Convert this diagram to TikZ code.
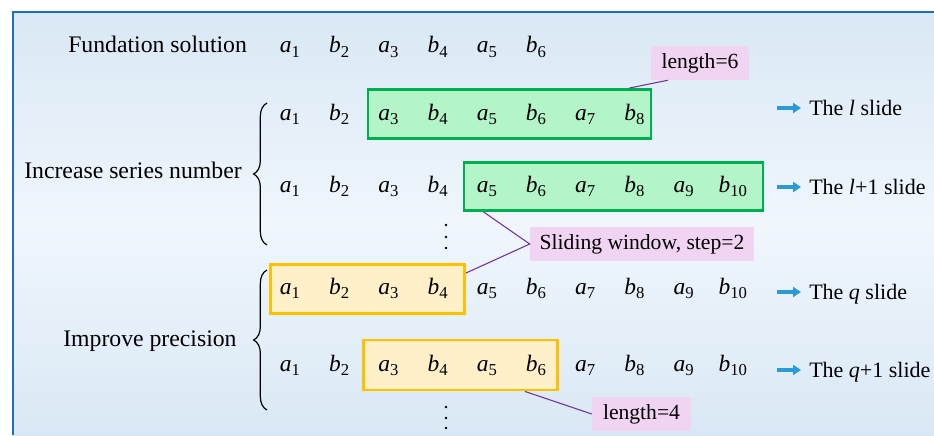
\documentclass[tikz,border=0pt]{standalone}
\usepackage{fontspec}
\setmainfont{Liberation Serif}
\usetikzlibrary{calc,decorations.pathreplacing,arrows.meta}
\definecolor{frameblue}{HTML}{1F6FC1}
\definecolor{bgtop}{HTML}{D9E8F5}
\definecolor{bgmid}{HTML}{F0F6FC}
\definecolor{gfill}{HTML}{B3F5C9}
\definecolor{gline}{HTML}{00B050}
\definecolor{ofill}{HTML}{FFF0C9}
\definecolor{oline}{HTML}{FFC000}
\definecolor{pinkfill}{HTML}{F0D4F2}
\definecolor{conncol}{HTML}{7030A0}
\definecolor{arrblue}{HTML}{2A9BD8}
\newcommand\elem[2]{\textit{#1}\raisebox{-3.6pt}{\fontsize{12.5}{12.5}\selectfont #2}}
\begin{document}
\begin{tikzpicture}[x=0.75pt,y=-0.75pt,
  seqel/.style={anchor=base,inner sep=0pt,font=\fontsize{17.6}{20}\selectfont},
  lefttxt/.style={anchor=base west,inner sep=0pt,font=\fontsize{17.8}{20}\selectfont},
  righttxt/.style={anchor=base west,inner sep=0pt,font=\fontsize{16.5}{20}\selectfont},
  gbox/.style={draw=gline,fill=gfill,line width=2.2pt,rectangle,inner sep=0pt},
  obox/.style={draw=oline,fill=ofill,line width=2.2pt,rectangle,inner sep=0pt},
  pinklab/.style={fill=pinkfill,rectangle,inner sep=0pt,font=\fontsize{16.2}{20}\selectfont},
  conn/.style={draw=conncol,line width=0.8pt},
  slidearrow/.style={draw=arrblue,line width=3pt,-{Triangle[length=6pt,width=7.5pt]}},
  bracestyle/.style={decorate,decoration={brace,amplitude=10pt},line width=0.9pt}
]
\useasboundingbox (0,0) rectangle (934,435);
\fill[white] (0,0) rectangle (934,435);
\shade[top color=bgtop,bottom color=bgtop,middle color=bgmid] (13,12) rectangle (934,435);
\draw[frameblue,line width=2pt] (13,435) -- (13,12) -- (934,12);

% window boxes
\node[gbox,minimum width=283*0.75pt,minimum height=49*0.75pt] (gbox1) at (509.5,114) {};
\node[gbox,minimum width=299*0.75pt,minimum height=48*0.75pt] (gbox2) at (613.5,186.5) {};
\node[obox,minimum width=194*0.75pt,minimum height=49*0.75pt] (obox1) at (367.5,289) {};
\node[obox,minimum width=194*0.75pt,minimum height=50*0.75pt] (obox2) at (460.5,365) {};

% sequences
\foreach \r/\n/\yb in {f/6/53, l/8/120, m/10/192, q/10/294, p/10/371}{
  \foreach \i in {1,...,\n}{
    \pgfmathtruncatemacro{\od}{mod(\i,2)}
    \ifnum\od=1 \def\L{a}\else\def\L{b}\fi
    \node[seqel] (\r\i) at ({290+49.2*(\i-1)},\yb) {\elem{\L}{\i}};
  }
}

% left labels
\node[lefttxt] (fund) at (68,53) {Fundation solution};
\node[lefttxt] (incr) at (24,178) {Increase series number};
\node[lefttxt] (impr) at (63,346) {Improve precision};

% braces
\draw[bracestyle] (267,245) -- (267,103);
\draw[bracestyle] (267,410) -- (267,270);

% vertical dots
\foreach \yy in {225,237,248,407,418,428}{
  \fill (446,\yy) circle (1.4);
}

% right labels with arrows
\node[righttxt] (lab1) at (809,115) {The \textit{l} slide};
\node[righttxt] (lab2) at (809,194) {The \textit{l}+1 slide};
\node[righttxt] (lab3) at (809,299) {The \textit{q} slide};
\node[righttxt] (lab4) at (809,377) {The \textit{q}+1 slide};
\foreach \k in {1,2,3,4}{
  \draw[slidearrow] ($(lab\k.base west)+(-32,-7)$) -- ($(lab\k.base west)+(-8,-7)$);
}

% pink annotation labels
\node[pinklab,minimum width=98*0.75pt,minimum height=34*0.75pt] (len6) at (700,63) {length=6};
\node[pinklab,minimum width=224*0.75pt,minimum height=34*0.75pt] (slide) at (642,244) {Sliding window, step=2};
\node[pinklab,minimum width=99*0.75pt,minimum height=34*0.75pt] (len4) at (641.5,414) {length=4};

% connectors
\draw[conn] ($(gbox1.north east)+(-23,0)$) -- ($(len6.south west)+(17,0)$);
\draw[conn] ($(gbox2.south west)+(21,0)$) -- (slide.west) -- ($(obox1.north east)+(0,10)$);
\draw[conn] ($(obox2.south west)+(163,0)$) -- (len4.west);
\end{tikzpicture}
\end{document}
